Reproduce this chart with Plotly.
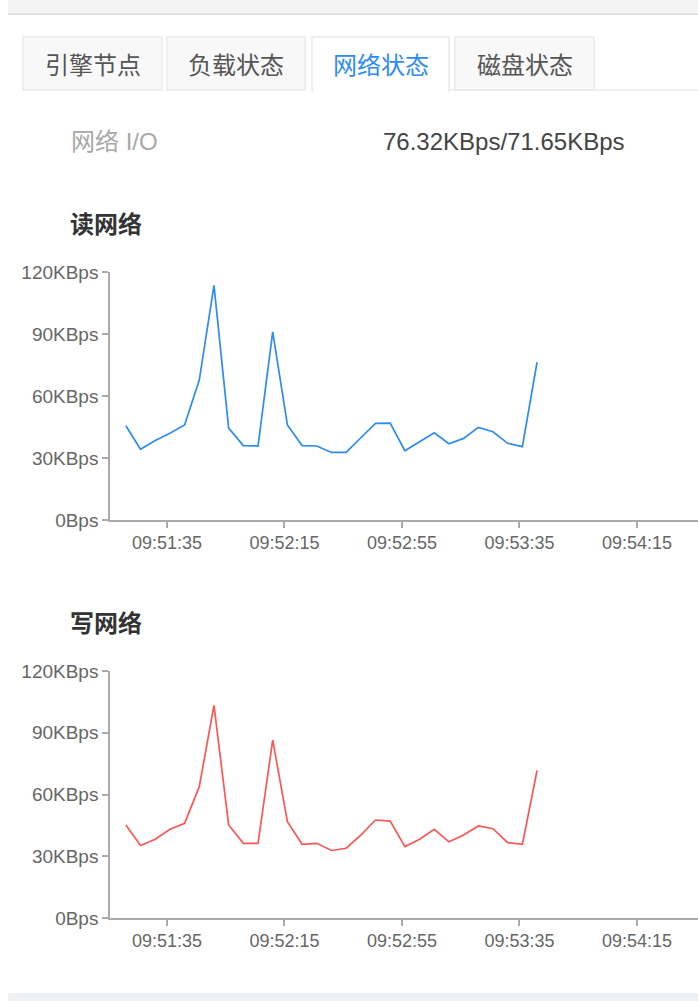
import plotly.graph_objects as go

W, H = 698, 1001

# ---------------- data ----------------
times = [
    "09:51:21", "09:51:26", "09:51:31", "09:51:36", "09:51:41", "09:51:46",
    "09:51:51", "09:51:56", "09:52:01", "09:52:06", "09:52:11", "09:52:16",
    "09:52:21", "09:52:26", "09:52:31", "09:52:36", "09:52:41", "09:52:46",
    "09:52:51", "09:52:56", "09:53:01", "09:53:06", "09:53:11", "09:53:16",
    "09:53:21", "09:53:26", "09:53:31", "09:53:36", "09:53:41",
]
read_kbps = [45.6, 34.2, 38.5, 42.0, 46.0, 67.7, 113.5, 44.5, 36.0, 35.8,
             91.0, 46.0, 36.0, 35.8, 32.7, 32.7, 39.8, 46.8, 46.9, 33.5,
             37.9, 42.2, 36.9, 39.5, 44.8, 42.7, 37.1, 35.5, 76.32]
write_kbps = [45.2, 35.2, 38.3, 43.1, 46.0, 63.8, 103.3, 45.2, 36.3, 36.3,
              86.4, 46.8, 35.8, 36.3, 32.8, 33.9, 40.3, 47.6, 47.1, 34.7,
              38.3, 43.1, 37.0, 40.3, 44.7, 43.4, 36.6, 35.8, 71.65]
y_tickvals = [0, 30, 60, 90, 120]
y_ticktext = ["0Bps", "30KBps", "60KBps", "90KBps", "120KBps"]
tabs = ["引擎节点", "负载状态", "网络状态", "磁盘状态"]
active_tab = 2
io_label = "网络 I/O"
io_value = "76.32KBps/71.65KBps"
read_title = "读网络"
write_title = "写网络"

DAY = "2024-01-01 "
x_vals = [DAY + t for t in times]
x_range = [DAY + "09:51:15.6", DAY + "09:54:35.8"]


def px(x):
    return x / W


def py(y):
    return 1 - y / H


LATIN = "Liberation Sans, Arial, Noto Sans CJK SC, sans-serif"
CJK = "Noto Sans CJK SC, Liberation Sans, sans-serif"

fig = go.Figure()
fig.add_trace(go.Scatter(x=x_vals, y=read_kbps, mode="lines",
                         line=dict(color="#2d8cf0", width=1.7),
                         xaxis="x", yaxis="y", hoverinfo="skip"))
fig.add_trace(go.Scatter(x=x_vals, y=write_kbps, mode="lines",
                         line=dict(color="#ff5555", width=1.7),
                         xaxis="x2", yaxis="y2", hoverinfo="skip"))

xfont = dict(family=LATIN, size=18, color="#666666")
yfont = dict(family=LATIN, size=19, color="#666666")
xcommon = dict(type="date", range=x_range, tickformat="%H:%M:%S",
               tick0=DAY + "09:51:35", dtick=40000, ticks="outside",
               ticklen=6, tickcolor="#aaaaaa", tickwidth=1.5,
               showline=True, linecolor="#aaaaaa", linewidth=1.5,
               showgrid=False, zeroline=False, tickfont=xfont,
               fixedrange=True, automargin=False)
ycommon = dict(range=[0, 120], tickvals=y_tickvals, ticktext=y_ticktext,
               ticks="outside", ticklen=6, tickcolor="#aaaaaa", tickwidth=1.5,
               showline=True, linecolor="#aaaaaa", linewidth=1.5,
               showgrid=False, zeroline=False, tickfont=yfont,
               fixedrange=True, automargin=False)

fig.update_layout(
    template="none",
    width=W, height=H,
    margin=dict(l=0, r=0, t=0, b=0, pad=0, autoexpand=False),
    paper_bgcolor="white", plot_bgcolor="white", showlegend=False,
    xaxis=dict(domain=[px(110), 1], anchor="y", **xcommon),
    yaxis=dict(domain=[py(520), py(272)], anchor="x", **ycommon),
    xaxis2=dict(domain=[px(110), 1], anchor="y2", **xcommon),
    yaxis2=dict(domain=[py(918), py(671)], anchor="x2", **ycommon),
)

shapes = []
# top gray band with shadow
shapes.append(dict(type="rect", xref="paper", yref="paper", x0=px(8), x1=1,
                   y0=py(13), y1=1, fillcolor="#f4f4f5", line=dict(width=0),
                   layer="below"))
shapes.append(dict(type="line", xref="paper", yref="paper", x0=px(8), x1=1,
                   y0=py(14), y1=py(14), line=dict(color="#e2e2e4", width=2)))
# bottom gray band
shapes.append(dict(type="rect", xref="paper", yref="paper", x0=px(8), x1=1,
                   y0=0, y1=py(993), fillcolor="#f0f1f3", line=dict(width=0),
                   layer="below"))

tab_x = [(23, 162), (167, 305), (312, 449), (455, 594)]
tab_top, tab_bot = 37, 90
# baseline right of tabs
shapes.append(dict(type="line", xref="paper", yref="paper", x0=px(449), x1=1,
                   y0=py(tab_bot), y1=py(tab_bot),
                   line=dict(color="#e8eaec", width=1.5)))
annotations = []
for i, (label, (a, b)) in enumerate(zip(tabs, tab_x)):
    act = i == active_tab
    shapes.append(dict(type="rect", xref="paper", yref="paper",
                       x0=px(a), x1=px(b), y0=py(tab_bot if not act else tab_bot + 1),
                       y1=py(tab_top),
                       fillcolor="#ffffff" if act else "#f8f8f9",
                       line=dict(color="#e8eaec", width=1.5), layer="below"))
    if act:
        shapes.append(dict(type="line", xref="paper", yref="paper",
                           x0=px(a + 1), x1=px(b - 1), y0=py(tab_bot + 1),
                           y1=py(tab_bot + 1),
                           line=dict(color="#ffffff", width=3)))
    annotations.append(dict(xref="paper", yref="paper", x=px((a + b) / 2),
                            y=py(63.5), text=label, showarrow=False,
                            xanchor="center", yanchor="middle",
                            font=dict(family=CJK, size=24,
                                      color="#2d8cf0" if act else "#555555")))

annotations.append(dict(xref="paper", yref="paper", x=px(69), y=py(141.5),
                        text=io_label, showarrow=False, xanchor="left",
                        yanchor="middle",
                        font=dict(family=LATIN, size=24, color="#a8a8a8")))
annotations.append(dict(xref="paper", yref="paper", x=px(381), y=py(141),
                        text=io_value, showarrow=False, xanchor="left",
                        yanchor="middle",
                        font=dict(family=LATIN, size=24, color="#444444")))
annotations.append(dict(xref="paper", yref="paper", x=px(68), y=py(222),
                        text="<b>" + read_title + "</b>", showarrow=False,
                        xanchor="left", yanchor="middle",
                        font=dict(family=CJK, size=24, color="#333333")))
annotations.append(dict(xref="paper", yref="paper", x=px(68), y=py(621.5),
                        text="<b>" + write_title + "</b>", showarrow=False,
                        xanchor="left", yanchor="middle",
                        font=dict(family=CJK, size=24, color="#333333")))

fig.update_layout(shapes=shapes, annotations=annotations)

post_js = (
    "var s=document.documentElement.style;s.margin='0';s.padding='0';"
    "s.overflow='hidden';"
    "var b=document.body.style;b.margin='0';b.padding='0';"
    "b.overflow='hidden';"
)
fig.write_html(
    "out.html",
    config={"displayModeBar": False},
    post_script=post_js,
)
